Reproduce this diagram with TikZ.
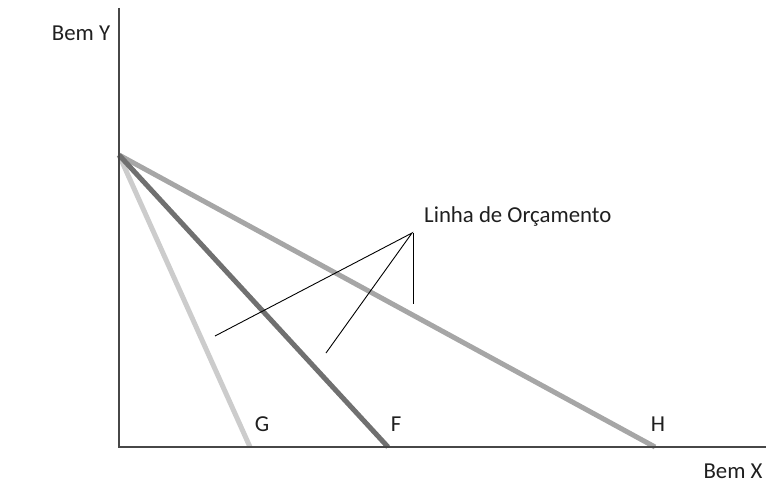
\documentclass[tikz,border=0pt]{standalone}
\usepackage{fontspec}
\setmainfont{Carlito}
\begin{document}
\begin{tikzpicture}[x=1pt,y=-1pt,
  axis/.style={draw=black!72,line width=2pt},
  budget/.style={line width=5pt},
  pointer/.style={draw=black,line width=0.9pt},
  lbl/.style={font=\fontsize{22.8}{26}\selectfont,text=black!88,inner sep=0pt}]
\useasboundingbox (0,0) rectangle (770,484);
\coordinate (ytop) at (119,8);
\coordinate (orig) at (119,447);
\coordinate (xend) at (766,447);
\coordinate (start) at (119,155);
\coordinate (g) at (250,447);
\coordinate (f) at (388,447);
\coordinate (h) at (655,447);
% budget lines
\draw[budget,draw=black!20] (start) -- (g);
\draw[budget,draw=black!35] (start) -- (h);
\draw[budget,draw=black!56] (start) -- (f);
% axes
\draw[axis] (ytop) -- (orig) -- (xend);
% labels
\node[lbl] (bemy) at (81,33) {Bem Y};
\node[lbl] (bemx) at (733,471) {Bem X};
\node[lbl] (lg) at (262,424) {G};
\node[lbl] (lf) at (396,424) {F};
\node[lbl] (lh) at (658,424) {H};
\node[lbl,anchor=west] (linha) at (424,216) {Linha de Orçamento};
% pointers
\coordinate (apex) at (412,233);
\coordinate (p1) at (215,336);
\coordinate (p2) at (326,353);
\coordinate (p3) at (413,304);
\draw[pointer] (p1) -- (apex) -- (p2);
\draw[pointer] (413,233) -- (p3);
\end{tikzpicture}
\end{document}
